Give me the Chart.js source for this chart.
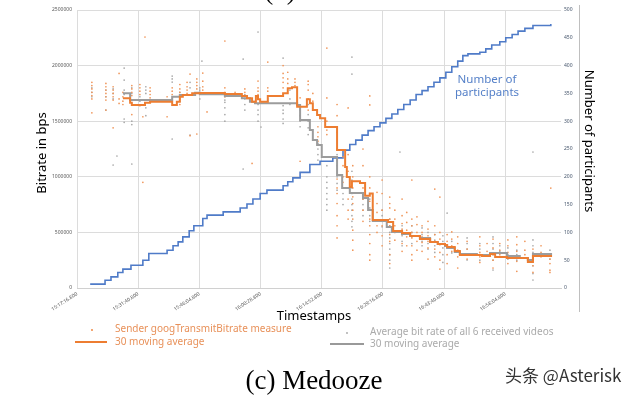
<!DOCTYPE html>
<html><head><meta charset="utf-8">
<script src="https://cdn.jsdelivr.net/npm/chart.js@4/dist/chart.umd.min.js"></script>
<style>html,body{margin:0;padding:0;background:#fff;}#wrap{position:relative;width:640px;height:397px;}</style>
</head><body><div id="wrap"><canvas id="c"></canvas></div>
<script>
// x values are minutes since 15:17:16.800
const tickLabels = ["15:17:16.800","15:31:40.800","15:46:04.800","16:00:28.800","16:14:52.800","16:29:16.800","16:43:40.800","16:58:04.800"];
const tickStep = 14.4;
const xMax = 113.9;

// Number of participants (right axis)
const partX = [3.1,6.6,8.0,9.6,10.8,12.7,15.5,16.9,21.2,22.6,23.8,24.9,26.4,27.5,29.6,30.6,34.4,38.4,40.0,41.4,43.1,44.7,48.5,49.6,50.8,52.5,54.8,57.2,60.2,62.6,64.2,65.6,67.1,68.5,69.9,71.3,72.7,74.1,75.5,76.9,78.4,79.8,81.2,82.6,84.0,85.4,86.8,88.2,89.6,90.8,92.0,94.8,96.2,97.6,99.5,100.9,102.4,103.8,105.4,107.3,111.5];
const partY = [7,14,20,28,34,41,50,62,68,76,83,92,103,112,125,131,137,144,151,160,170,176,184,191,198,208,222,228,234,248,258,266,275,283,290,297,305,313,321,330,338,348,355,362,370,378,388,398,408,418,421,424,430,437,443,450,456,462,467,472,475];

// Sender moving average (kbps)
const senderMaX = [10.8,12.5,12.9,16.0,17.2,22.4,23.5,24.2,24.9,27.1,28.9,34.8,38.8,40.0,41.2,42.1,42.6,43.1,44.9,48.5,49.6,50.6,51.8,54.1,54.8,55.5,56.5,57.2,58.4,61.2,63.1,63.5,64.2,64.7,66.6,67.8,68.9,69.6,73.2,74.4,76.5,78.4,80.7,83.1,84.9,86.6,87.1,88.9,90.1,95.3,97.2,98.4,101.2,106.1,107.3,111.8];
const senderMaY = [1706,1666,1646,1666,1675,1646,1675,1720,1736,1751,1754,1745,1727,1706,1675,1727,1697,1675,1727,1751,1796,1805,1630,1697,1661,1601,1556,1526,1448,1241,1088,998,908,960,944,830,850,611,593,512,494,467,440,413,395,387,369,333,297,288,306,279,270,234,288,288];

// Received average moving average (kbps)
const recvMaX = [10.8,12.5,22.4,24.2,27.8,28.9,34.8,38.8,40.7,41.9,51.8,52.5,54.8,55.5,56.5,57.6,61.2,62.4,64.2,67.3,68.5,69.6,72.9,74.1,76.5,78.4,80.7,83.1,84.9,86.6,87.1,88.9,90.1,94.1,97.2,101.2,104.2,106.1,107.3,111.8];
const recvMaY = [1751,1690,1720,1736,1756,1742,1727,1706,1675,1661,1646,1511,1421,1331,1286,1178,1016,899,854,809,701,602,548,503,486,467,450,413,395,377,360,324,306,297,315,288,270,252,306,306];

// Sender measures (kbps), grouped by timestamp column
const senderDots = [
 [3.5,[1850,1820,1790,1760,1730,1700,1575]],
 [6.8,[1840,1810,1780,1750,1720,1690,1600]],
 [8.5,[1810,1780,1750,1720,1690,1440]],
 [9.9,[1930,1700,1660]],
 [10.8,[1760,1720,1680,1650]],
 [12.9,[1820,1790,1760,1730,1560]],
 [14.8,[1830,1800,1770,1740,1640]],
 [15.5,[1540,950]],
 [16.0,[2257]],
 [17.2,[1800,1770,1740,1710]],
 [21.2,[1720,1680,1540]],
 [22.4,[1800,1770,1740]],
 [24.2,[1830,1790,1760,1700,1650]],
 [25.9,[1850,1810,1780,1750]],
 [26.6,[1924,1370]],
 [28.2,[1880,1850,1820,1790,1385]],
 [29.6,[1933,1860,1810,1780]],
 [30.6,[1583]],
 [34.8,[2221,1800,1760,1720]],
 [37.2,[1760,1740]],
 [39.5,[1790,1760,1730]],
 [41.2,[1120]],
 [42.6,[1861,1800,1770,1740]],
 [44.9,[2032,1800,1770]],
 [48.5,[2000,1930,1890,1850,1800]],
 [49.6,[1940,1880,1840]],
 [51.3,[1880,1850,1820]],
 [52.5,[1710,1140]],
 [54.4,[1860,1830,1780,1700,1600]],
 [55.5,[1750,1680]],
 [56.7,[1450,1400,1360,1320]],
 [58.8,[2158,1709,1500,1420,1380]],
 [61.2,[1650,1550,1400,1250,1150,980,900,850,760,650,560,450]],
 [62.6,[1180,1100,1000,950]],
 [63.8,[1619,1200,1050,900,800,700,620]],
 [64.9,[1100,1000,900,820,760,700,620,520,430,340]],
 [67.3,[1250,1100,900,800,700,600]],
 [68.9,[1727,1646,1000,900,780,700,620,560,480,400,300,250]],
 [70.6,[860,760,680,560,500]],
 [71.8,[971,850,700,560,470,380]],
 [73.6,[818,760,720,620,560,480,420,300,220]],
 [74.8,[700,620,560,500,430]],
 [76.5,[800,650,580,530,480,400,330]],
 [77.6,[680,590,520,460,380]],
 [78.8,[971,620,560,500,450,380,300,250]],
 [80.0,[640,570,500,470,420,340]],
 [81.2,[560,500,460,410,330]],
 [82.6,[600,530,470,420,360,260]],
 [84.2,[890,560,480,420,350,280]],
 [85.4,[818,500,440,390,320,250,170]],
 [87.1,[480,420,370,300,220]],
 [88.2,[504,440,380,330]],
 [89.6,[460,400,340,280,180]],
 [91.8,[420,350,300,260]],
 [94.8,[460,380,320,280,230]],
 [96.5,[400,330,290]],
 [97.9,[440,360,300,250,180]],
 [99.5,[400,340,300]],
 [101.4,[432,380,320,270,220]],
 [103.5,[460,390,330,280,240,150]],
 [105.4,[420,340,300]],
 [107.3,[350,300,260,200,140]],
 [109.2,[380,320,280]],
 [111.3,[300,260,220,160,140]],
 [111.5,[899]]
];

// Average received bitrate (kbps), grouped by timestamp column
const recvDots = [
 [3.5,[1800,1760,1720]],
 [6.8,[1780,1720,1600]],
 [8.5,[1790,1750,1700,1106]],
 [9.4,[1187]],
 [11.1,[1978,1870,1780,1740,1520,1490]],
 [12.9,[1800,1750,1500,1470,1115]],
 [14.8,[1720,1680]],
 [16.2,[1810,1780,1750,1620,1550]],
 [22.4,[1906,1880,1852,1700,1340]],
 [24.2,[1760,1700,1680]],
 [26.6,[1850,1800,1376]],
 [28.9,[1800,1780,1760,1700]],
 [29.4,[2041]],
 [34.8,[1720,1690,1670,1620,1560,1500]],
 [39.1,[2059,1070]],
 [39.5,[1740,1720,1700,1650,1600]],
 [42.6,[2302,1650,1600,1560,1500]],
 [43.3,[1448]],
 [44.9,[1700,1680]],
 [48.5,[2068,1640,1600,1570,1520,1480]],
 [50.1,[1780,1700,1650]],
 [52.5,[1600,1550,1500,1450]],
 [54.4,[1650,1560,1500,1440,1380]],
 [56.7,[1300,1250,1200,1150]],
 [58.8,[1100,1000,950,900,850,800,750,700]],
 [61.2,[1200,1100,1000,940,880]],
 [62.6,[900,850,800,750]],
 [64.7,[2077,1924,1050,970,900,850,800,750,700,650,600,550]],
 [67.3,[800,750,700,650]],
 [68.9,[850,800,720,650,600]],
 [71.8,[700,650,600,550]],
 [73.6,[620,560,500,450,400,350,300,250,180]],
 [76.0,[1223]],
 [76.5,[560,520,470,420,380]],
 [78.8,[560,500,460,400]],
 [81.2,[540,480,420,380]],
 [82.6,[500,450,400,350]],
 [84.2,[480,430,380,320]],
 [86.1,[470,420,360,300,230]],
 [87.1,[674]],
 [88.2,[420,360,315]],
 [91.8,[450,400,350,300,252]],
 [94.8,[400,350,300,250]],
 [97.9,[459,400,350,300,250,162]],
 [99.5,[380,330]],
 [101.4,[360,300,260]],
 [103.5,[340,300,250]],
 [107.3,[1223,432,380,320,260,200,130,72]],
 [111.3,[340,300,260]]
];

const toPts = (xs, ys, k) => xs.map((x, i) => ({x: x, y: ys[i] * k}));
const dotPts = cols => { const out = []; cols.forEach(c => c[1].forEach(v => out.push({x: c[0], y: v * 1000}))); return out; };

const ORANGE = '#ED7D31', GRAY = '#A5A5A5', BLUE = '#4472C4';

const textPlugin = {
  id: 'texts',
  afterDraw(chart) {
    const ctx = chart.ctx;
    ctx.save();
    // secondary axis frame line
    ctx.strokeStyle = '#bfbfbf'; ctx.lineWidth = 1;
    ctx.beginPath(); ctx.moveTo(579.5, 5); ctx.lineTo(579.5, 312); ctx.stroke();
    ctx.textBaseline = 'middle';
    // axis titles
    ctx.fillStyle = '#000';
    ctx.font = '13px "Noto Sans"';
    ctx.textAlign = 'center';
    ctx.save(); ctx.translate(42, 153); ctx.rotate(-Math.PI / 2); ctx.fillText('Bitrate in bps', 0, 0); ctx.restore();
    ctx.save(); ctx.translate(589, 141); ctx.rotate(Math.PI / 2); ctx.fillText('Number of participants', 0, 0); ctx.restore();
    ctx.fillText('Timestamps', 314, 316);
    // annotation
    ctx.fillStyle = '#5580c8';
    ctx.font = '11.5px "Noto Sans"';
    ctx.fillText('Number of', 487, 80);
    ctx.fillText('participants', 487, 93);
    // legend
    ctx.font = '10px "Noto Sans"';
    ctx.textAlign = 'left';
    ctx.fillStyle = ORANGE;
    ctx.beginPath(); ctx.arc(92, 330, 0.9, 0, Math.PI * 2); ctx.fill();
    ctx.strokeStyle = ORANGE; ctx.lineWidth = 2;
    ctx.beginPath(); ctx.moveTo(75, 342); ctx.lineTo(107, 342); ctx.stroke();
    ctx.fillStyle = '#e8915a';
    ctx.fillText('Sender googTransmitBitrate measure', 115, 329);
    ctx.fillText('30 moving average', 115, 342);
    ctx.fillStyle = GRAY;
    ctx.beginPath(); ctx.arc(347, 333, 0.9, 0, Math.PI * 2); ctx.fill();
    ctx.strokeStyle = '#999'; ctx.lineWidth = 2;
    ctx.beginPath(); ctx.moveTo(330, 344); ctx.lineTo(364, 344); ctx.stroke();
    ctx.fillStyle = '#aaaaaa';
    ctx.fillText('Average bit rate of all 6 received videos', 370, 332);
    ctx.fillText('30 moving average', 370, 344);
    // caption
    ctx.fillStyle = '#000';
    ctx.textAlign = 'center';
    ctx.font = '27px "Liberation Serif"';
    ctx.fillText('(c) Medooze', 314, 382);
    ctx.textBaseline = 'alphabetic';
    ctx.fillText('(b)', 280, -1);
    ctx.textBaseline = 'middle';
    // watermark
    ctx.textAlign = 'left';
    ctx.font = '17px "Noto Sans CJK SC"';
    ctx.fillStyle = '#333';
    ctx.fillText('头条 @Asterisk', 505, 376);
    ctx.restore();
  }
};

new Chart(document.getElementById('c'), {
  type: 'line',
  data: {
    datasets: [
      {label: 'Sender MA', data: toPts(senderMaX, senderMaY, 1000), yAxisID: 'y', stepped: true, borderColor: ORANGE, borderWidth: 2, pointRadius: 0, fill: false, order: 0},
      {label: 'Recv MA', data: toPts(recvMaX, recvMaY, 1000), yAxisID: 'y', stepped: true, borderColor: '#9c9c9c', borderWidth: 2, pointRadius: 0, fill: false, order: 1},
      {label: 'Sender', data: dotPts(senderDots), yAxisID: 'y', showLine: false, pointRadius: 0.85, pointBorderWidth: 0, pointBackgroundColor: '#F0965A', backgroundColor: '#F0965A', order: 2},
      {label: 'Recv', data: dotPts(recvDots), yAxisID: 'y', showLine: false, pointRadius: 0.85, pointBorderWidth: 0, pointBackgroundColor: '#a8a8a8', backgroundColor: '#a8a8a8', order: 3},
      {label: 'Participants', data: toPts(partX, partY, 1), yAxisID: 'y1', stepped: true, borderColor: '#4F7BC8', borderWidth: 1.6, pointRadius: 0, fill: false, order: 4}
    ]
  },
  options: {
    responsive: true, maintainAspectRatio: false, animation: false, devicePixelRatio: 1,
    layout: {padding: {top: 10, left: 0, right: 0, bottom: 0}},
    plugins: {legend: {display: false}, tooltip: {enabled: false}},
    scales: {
      x: {
        type: 'linear', min: 0, max: xMax, position: 'bottom',
        afterBuildTicks: s => { s.ticks = tickLabels.map((l, i) => ({value: i * tickStep})); },
        afterFit: s => { s.height = 109; },
        grid: {color: '#dcdcdc', drawTicks: false},
        border: {color: '#d0d0d0'},
        ticks: {autoSkip: false, maxRotation: 33, minRotation: 33, padding: 3, color: '#595959', font: {size: 5, family: 'Noto Sans'},
          callback: v => tickLabels[Math.round(v / tickStep)] || ''}
      },
      y: {
        position: 'left', min: 0, max: 2500000,
        afterFit: s => { s.width = 77; },
        grid: {color: '#dcdcdc', drawTicks: false},
        border: {display: false},
        ticks: {stepSize: 500000, padding: 5, color: '#595959', font: {size: 5, family: 'Noto Sans'}, callback: v => String(v)}
      },
      y1: {
        position: 'right', min: 0, max: 500,
        afterFit: s => { s.width = 79; },
        grid: {display: false, drawTicks: false},
        border: {display: false},
        ticks: {stepSize: 50, padding: 3, color: '#44546A', font: {size: 5, family: 'Noto Sans'}, callback: v => String(v)}
      }
    }
  },
  plugins: [textPlugin]
});
</script></body></html>
